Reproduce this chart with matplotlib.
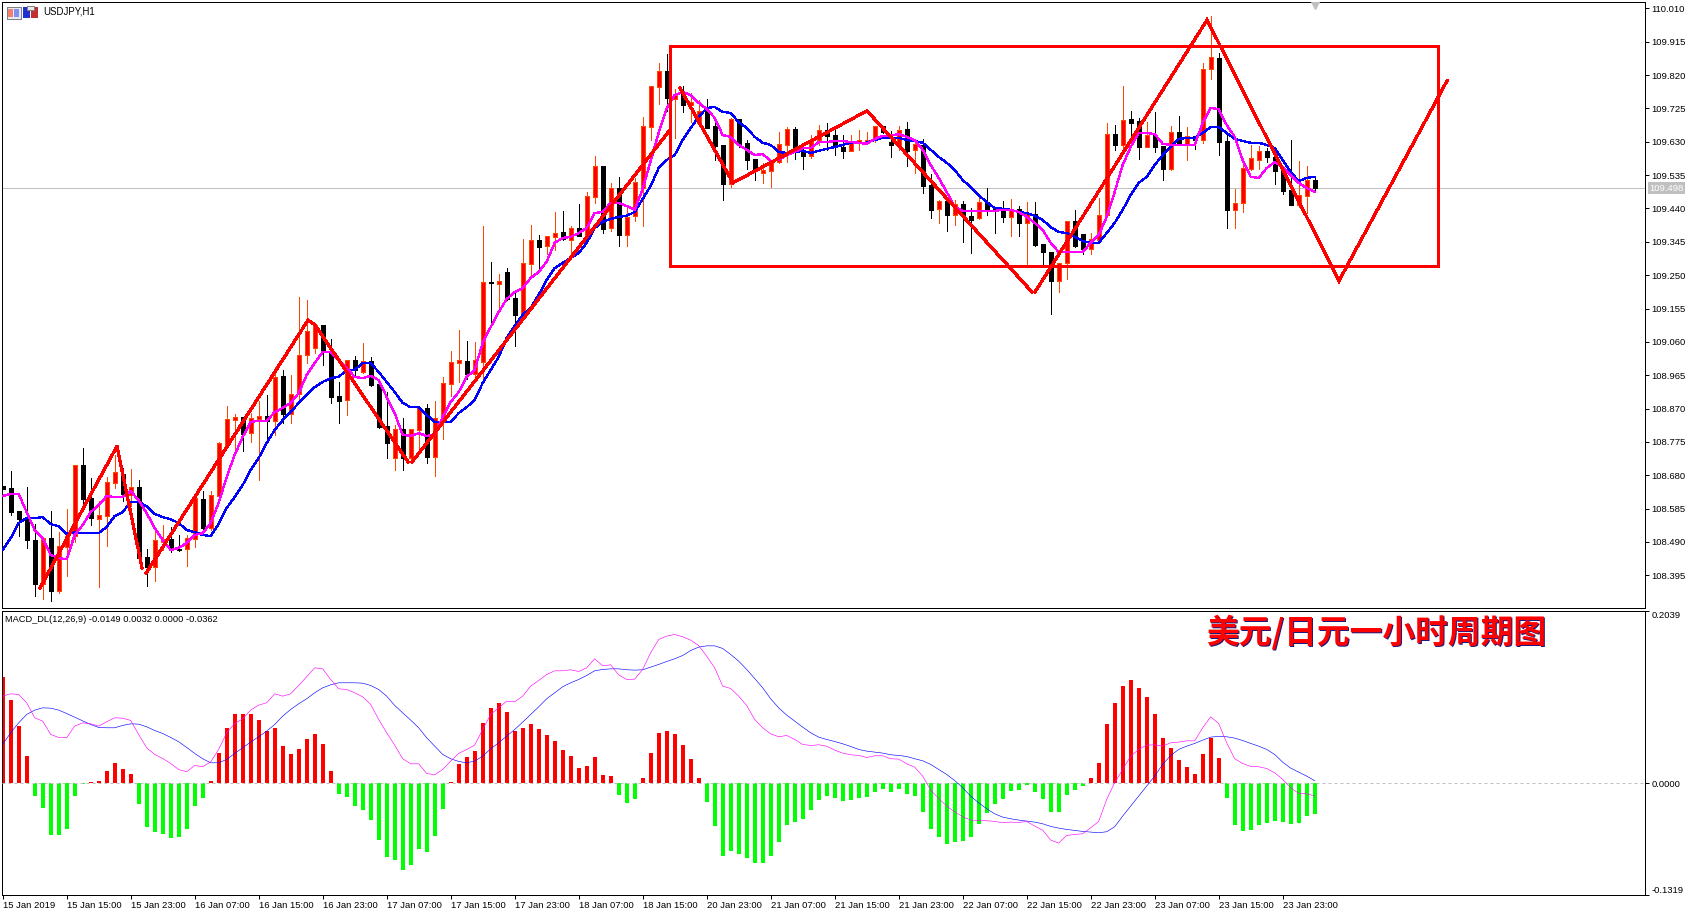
import matplotlib
matplotlib.use('Agg')
import matplotlib.pyplot as plt
import matplotlib.transforms as mtrans
from matplotlib.patches import Rectangle
import numpy as np

W, H = 1693, 917
plt.rcParams['font.family'] = ['Liberation Sans', 'DejaVu Sans']

# USDJPY H1 candles
highs = [108.649,108.693,108.578,108.646,108.541,108.504,108.578,108.518,108.584,108.709,
108.758,108.672,108.607,108.675,108.738,108.701,108.698,108.666,108.470,108.530,
108.538,108.533,108.510,108.510,108.618,108.635,108.635,108.775,108.877,108.854,
108.846,108.857,108.892,108.909,108.988,108.980,108.966,109.188,109.179,109.111,
109.108,109.068,108.946,109.008,109.020,109.057,109.017,108.940,108.917,108.823,
108.843,108.812,108.877,108.883,108.892,108.960,109.034,109.094,109.062,109.060,
109.390,109.288,109.253,109.270,109.208,109.353,109.393,109.364,109.362,109.430,
109.433,109.390,109.453,109.487,109.590,109.561,109.513,109.530,109.444,109.527,
109.701,109.789,109.854,109.880,109.780,109.789,109.769,109.749,109.752,109.701,
109.621,109.698,109.695,109.635,109.581,109.570,109.575,109.658,109.672,109.672,
109.615,109.649,109.678,109.684,109.669,109.649,109.649,109.664,109.658,109.675,
109.675,109.661,109.675,109.686,109.627,109.638,109.538,109.464,109.464,109.464,
109.461,109.441,109.473,109.498,109.444,109.461,109.467,109.447,109.458,109.458,
109.339,109.316,109.285,109.404,109.436,109.367,109.370,109.470,109.684,109.678,
109.789,109.718,109.698,109.686,109.715,109.618,109.675,109.704,109.672,109.647,
109.854,109.988,109.883,109.652,109.496,109.578,109.621,109.618,109.612,109.615,
109.558,109.635,109.575,109.561,109.527]
lows = [108.641,108.567,108.507,108.474,108.336,108.328,108.323,108.345,108.393,108.491,
108.592,108.538,108.363,108.478,108.644,108.607,108.592,108.444,108.364,108.379,
108.467,108.461,108.464,108.422,108.476,108.524,108.524,108.618,108.763,108.752,
108.749,108.775,108.666,108.775,108.795,108.829,108.829,108.894,109.000,109.028,
108.994,108.886,108.829,108.852,108.966,108.971,108.934,108.815,108.729,108.695,
108.695,108.723,108.752,108.715,108.678,108.783,108.906,108.946,108.954,108.946,
108.946,109.114,109.157,109.179,109.048,109.137,109.248,109.262,109.310,109.322,
109.350,109.313,109.362,109.350,109.456,109.370,109.376,109.333,109.333,109.404,
109.390,109.635,109.738,109.718,109.641,109.715,109.686,109.678,109.669,109.578,
109.464,109.501,109.615,109.553,109.521,109.513,109.501,109.570,109.572,109.581,
109.553,109.584,109.621,109.607,109.592,109.584,109.604,109.607,109.629,109.629,
109.655,109.587,109.607,109.561,109.541,109.484,109.413,109.399,109.376,109.393,
109.344,109.313,109.410,109.421,109.370,109.402,109.362,109.362,109.279,109.333,
109.279,109.139,109.202,109.239,109.330,109.310,109.310,109.350,109.416,109.607,
109.612,109.615,109.581,109.615,109.601,109.521,109.550,109.624,109.578,109.610,
109.627,109.809,109.592,109.384,109.384,109.430,109.550,109.553,109.572,109.510,
109.481,109.450,109.444,109.427,109.493]
opens = [108.649,108.644,108.578,108.562,108.496,108.370,108.501,108.351,108.475,108.507,
108.709,108.615,108.555,108.564,108.658,108.684,108.624,108.647,108.447,108.420,
108.490,108.498,108.470,108.470,108.499,108.612,108.530,108.621,108.766,108.837,
108.846,108.800,108.840,108.849,108.835,108.963,108.854,108.911,109.023,109.043,
109.108,109.031,108.906,108.894,109.008,108.974,109.006,108.940,108.820,108.729,
108.812,108.729,108.809,108.872,108.732,108.843,108.940,109.000,109.006,108.968,
109.003,109.231,109.225,109.259,109.185,109.137,109.282,109.350,109.333,109.359,
109.373,109.350,109.384,109.356,109.473,109.561,109.384,109.498,109.364,109.419,
109.498,109.672,109.786,109.832,109.752,109.769,109.735,109.684,109.718,109.675,
109.621,109.510,109.695,109.627,109.581,109.541,109.547,109.572,109.621,109.666,
109.601,109.590,109.635,109.664,109.649,109.615,109.604,109.627,109.632,109.635,
109.675,109.629,109.621,109.666,109.607,109.621,109.507,109.439,109.461,109.421,
109.453,109.419,109.413,109.458,109.439,109.436,109.416,109.439,109.399,109.424,
109.339,109.316,109.233,109.285,109.404,109.367,109.325,109.350,109.421,109.652,
109.621,109.695,109.689,109.615,109.649,109.618,109.553,109.658,109.624,109.647,
109.635,109.837,109.869,109.632,109.436,109.456,109.553,109.578,109.604,109.587,
109.550,109.493,109.450,109.476,109.521]
closes = [108.641,108.576,108.555,108.496,108.370,108.501,108.351,108.478,108.507,108.709,
108.612,108.558,108.567,108.661,108.689,108.627,108.647,108.444,108.419,108.496,
108.498,108.470,108.467,108.501,108.615,108.530,108.624,108.772,108.840,108.846,
108.797,108.843,108.849,108.835,108.961,108.854,108.911,109.023,109.091,109.108,
109.031,108.903,108.892,109.008,108.980,109.006,108.937,108.817,108.772,108.812,
108.729,108.812,108.872,108.732,108.843,108.943,109.003,109.008,108.968,109.008,
109.231,109.228,109.233,109.182,109.137,109.285,109.350,109.330,109.362,109.370,
109.353,109.384,109.362,109.476,109.561,109.382,109.498,109.364,109.416,109.515,
109.675,109.789,109.832,109.755,109.766,109.735,109.743,109.718,109.669,109.618,
109.510,109.695,109.621,109.578,109.547,109.550,109.572,109.624,109.666,109.609,
109.590,109.629,109.664,109.647,109.615,109.604,109.627,109.635,109.635,109.675,
109.658,109.621,109.664,109.604,109.624,109.504,109.436,109.461,109.421,109.453,
109.419,109.407,109.458,109.439,109.436,109.416,109.436,109.399,109.424,109.336,
109.316,109.233,109.285,109.404,109.333,109.325,109.353,109.421,109.652,109.621,
109.692,109.684,109.615,109.649,109.615,109.553,109.658,109.624,109.647,109.635,
109.837,109.872,109.629,109.436,109.456,109.555,109.584,109.604,109.587,109.547,
109.490,109.450,109.478,109.521,109.498]

# moving averages on the price panel
ma_slow = [108.467,108.501,108.544,108.558,108.558,108.561,108.541,108.535,108.513,108.518,
108.515,108.515,108.515,108.533,108.564,108.575,108.604,108.604,108.592,108.570,
108.561,108.555,108.544,108.524,108.518,108.510,108.507,108.541,108.587,108.618,
108.652,108.695,108.729,108.772,108.809,108.837,108.860,108.886,108.909,108.931,
108.946,108.957,108.960,108.980,108.980,109.000,109.000,108.974,108.946,108.917,
108.886,108.874,108.874,108.852,108.832,108.832,108.832,108.857,108.874,108.894,
108.943,108.980,109.017,109.071,109.105,109.137,109.157,109.194,109.236,109.270,
109.285,109.299,109.313,109.342,109.384,109.402,109.410,109.416,109.419,109.430,
109.467,109.504,109.555,109.578,109.592,109.635,109.669,109.701,109.726,109.729,
109.715,109.712,109.686,109.669,109.644,109.627,109.621,109.601,109.598,109.601,
109.604,109.598,109.604,109.610,109.615,109.621,109.627,109.627,109.627,109.635,
109.641,109.641,109.641,109.635,109.632,109.627,109.607,109.587,109.570,109.550,
109.521,109.501,109.478,109.458,109.441,109.439,109.436,109.430,109.427,109.419,
109.407,109.387,109.373,109.370,109.359,109.347,109.342,109.342,109.370,109.399,
109.436,109.478,109.513,109.530,109.564,109.592,109.615,109.638,109.641,109.641,
109.655,109.672,109.672,109.655,109.638,109.632,109.627,109.627,109.621,109.612,
109.578,109.544,109.518,109.527,109.530]
ma_fast = [108.621,108.627,108.627,108.575,108.524,108.501,108.453,108.444,108.441,108.510,
108.538,108.575,108.595,108.621,108.618,108.618,108.635,108.609,108.572,108.530,
108.496,108.467,108.473,108.487,108.510,108.515,108.544,108.601,108.675,108.738,
108.789,108.832,108.835,108.835,108.860,108.872,108.886,108.914,108.966,109.000,
109.031,109.031,109.008,108.986,108.960,108.957,108.963,108.951,108.903,108.857,
108.795,108.792,108.800,108.792,108.795,108.846,108.889,108.917,108.960,108.980,
109.057,109.102,109.145,109.182,109.202,109.213,109.242,109.259,109.288,109.342,
109.356,109.359,109.370,109.384,109.427,109.430,109.456,109.456,109.447,109.436,
109.496,109.575,109.655,109.726,109.763,109.772,109.763,109.741,109.723,109.698,
109.649,109.644,109.621,109.607,109.592,109.595,109.575,109.578,109.592,109.601,
109.612,109.612,109.629,109.629,109.632,109.632,109.629,109.627,109.624,109.638,
109.647,109.647,109.652,109.644,109.635,109.607,109.564,109.527,109.487,109.444,
109.433,109.433,109.433,109.433,109.433,109.436,109.436,109.430,109.416,109.399,
109.379,109.342,109.316,109.316,109.316,109.316,109.342,109.364,109.416,109.487,
109.564,109.615,109.655,109.655,109.652,109.624,109.621,109.621,109.621,109.621,
109.684,109.726,109.723,109.678,109.644,109.578,109.530,109.527,109.555,109.572,
109.558,109.535,109.513,109.498,109.487]

# MACD panel
macd_hist = [.1257,.0981,.0674,.0319,-.0154,-.0296,-.0615,-.0615,-.0544,-.0154,
-.0008,.0012,.0024,.0142,.0236,.0165,.0106,-.0248,-.052,-.0579,
-.0603,-.065,-.0638,-.0544,-.0272,-.0177,.0024,.0355,.065,.0827,
.0827,.0816,.0745,.0626,.065,.0437,.0343,.0402,.052,.0579,
.0461,.0142,-.013,-.0165,-.0272,-.0319,-.0437,-.0674,-.0875,-.091,
-.1028,-.0969,-.078,-.0816,-.0626,-.0307,.0012,.0225,.0307,.0378,
.0709,.0887,.0946,.0839,.0626,.065,.0697,.0638,.0567,.0496,
.039,.0319,.0177,.0201,.0307,.0095,.0083,-.0142,-.0236,-.0189,
.0059,.0355,.0591,.0615,.0579,.0449,.0284,.0059,-.0225,-.0508,
-.0863,-.0804,-.0839,-.0887,-.0946,-.0946,-.0863,-.0697,-.0496,-.0461,
-.0426,-.0319,-.0201,-.0154,-.0177,-.0213,-.0201,-.0177,-.0165,-.0106,
-.0071,-.0106,-.0071,-.013,-.0154,-.0343,-.0544,-.0638,-.0721,-.0697,
-.0686,-.0638,-.0485,-.0355,-.0248,-.0189,-.0095,-.0083,-.0024,-.0106,
-.0189,-.0343,-.0343,-.0142,-.0083,-.0035,.0059,.0236,.0697,.0946,
.1158,.1229,.1123,.1017,.0827,.0532,.0414,.0272,.0189,.0106,
.0343,.0532,.0296,-.0177,-.0496,-.0567,-.0556,-.0496,-.0473,-.0449,
-.0461,-.0485,-.0473,-.039,-.0362]
macd_fast = [.1032,.106,.1052,.0954,.0776,.0737,.0579,.0544,.054,.0678,
.0717,.0705,.0678,.0729,.0776,.0772,.0745,.0579,.0422,.0343,
.0296,.0236,.0165,.0138,.0213,.0197,.0256,.0402,.0599,.0709,
.0764,.0867,.0926,.0954,.106,.1032,.106,.1158,.1261,.1367,
.1355,.1229,.1119,.1111,.1072,.1024,.0934,.0757,.0599,.0453,
.0292,.0232,.0232,.0118,.0102,.0165,.0264,.0355,.0402,.0453,
.0638,.0816,.0894,.0973,.0965,.1032,.1151,.1217,.1288,.1332,
.1332,.1344,.1324,.1367,.1474,.1391,.1403,.1284,.1229,.1233,
.1348,.1545,.1702,.1742,.1761,.1734,.1694,.1631,.1505,.1367,
.1151,.1123,.1032,.0922,.0757,.0658,.0587,.0552,.0567,.052,
.0461,.0449,.0457,.0441,.0394,.0359,.0339,.0331,.0307,.0327,
.0327,.0292,.0288,.0232,.0193,.0087,-.0079,-.0177,-.0268,-.0335,
-.0394,-.0433,-.0437,-.0441,-.0449,-.0465,-.0457,-.0461,-.0449,-.0504,
-.0552,-.067,-.0705,-.0615,-.0603,-.0595,-.0524,-.045,-.0189,.0008,
.0165,.0323,.0402,.0453,.0457,.0441,.0481,.0489,.0504,.0504,
.0658,.0788,.0709,.0481,.0292,.0236,.0201,.0197,.0177,.0126,
.0047,-.0051,-.0118,-.0122,-.0149]
macd_signal = [.0461,.0599,.0717,.0816,.0867,.0894,.089,.0867,.0827,.0784,
.0741,.0697,.0662,.0658,.0658,.0686,.0705,.0701,.067,.0626,
.0591,.0544,.0493,.0426,.0355,.0292,.0244,.0244,.0284,.0355,
.0422,.0489,.0552,.0619,.0697,.0796,.0875,.0942,.1001,.1072,
.1131,.1166,.119,.119,.119,.1186,.1158,.1111,.1032,.0922,
.0835,.0749,.0658,.054,.0441,.0343,.0292,.026,.0244,.0264,
.0323,.041,.0481,.056,.0638,.0725,.0816,.0906,.1001,.1072,
.1143,.119,.1229,.1277,.1332,.1348,.1355,.1355,.1344,.134,
.1344,.1375,.1407,.1442,.1474,.1513,.1572,.1612,.1627,.1627,
.1596,.1525,.1446,.1348,.1241,.1131,.1001,.0894,.0808,.0737,
.0666,.0599,.0548,.052,.0496,.0469,.0437,.0402,.0382,.037,
.0359,.0339,.0331,.0319,.0292,.0268,.0225,.0165,.0106,.0035,
-.0051,-.015,-.0229,-.0299,-.0359,-.0398,-.0418,-.0433,-.0445,-.0457,
-.0477,-.0508,-.0528,-.0544,-.0556,-.0567,-.0575,-.0583,-.0571,-.0512,
-.0386,-.0268,-.015,-.0032,.0087,.0225,.0331,.0402,.0441,.0473,
.0512,.0548,.0556,.0552,.0536,.0508,.0473,.0441,.0402,.0343,
.0252,.0181,.0134,.0087,.0032]

time_labels = ['15 Jan 2019','15 Jan 15:00','15 Jan 23:00','16 Jan 07:00','16 Jan 15:00','16 Jan 23:00',
'17 Jan 07:00','17 Jan 15:00','17 Jan 23:00','18 Jan 07:00','18 Jan 15:00','20 Jan 23:00','21 Jan 07:00',
'21 Jan 15:00','21 Jan 23:00','22 Jan 07:00','22 Jan 15:00','22 Jan 23:00','23 Jan 07:00','23 Jan 15:00','23 Jan 23:00']
price_ticks = [110.010,109.915,109.820,109.725,109.630,109.535,109.440,109.345,109.250,109.155,
109.060,108.965,108.870,108.775,108.680,108.585,108.490,108.395]
last_price = 109.498
macd_ticks = [0.2039,0.0,-0.1319]

# hand-drawn swing lines and range box (bar number, price); nan breaks the pen
swing_bar = [4.67,14.29,17.42,np.nan,17.92,38.17,39.04,50.67,np.nan,51.17,83.42,np.nan,84.67,91.29,108.04,128.67,np.nan,129.04,150.55,167.04,180.55]
swing_price = [108.359,108.763,108.416,np.nan,108.401,109.122,109.108,108.718,np.nan,108.718,109.664,np.nan,109.783,109.513,109.718,109.202,np.nan,109.202,109.977,109.234,109.804]
box_bars = [83.42,179.42]
box_prices = [109.276,109.904]

PX = 0.72  # one pixel in points at dpi 100
RED, ORANGE, LIME, GRAY = '#ff0000', '#ff4500', '#00ff00', '#c0c0c0'
FS = 6.8

fig = plt.figure(figsize=(W/100, H/100), dpi=100, facecolor='white')
ax = fig.add_axes([2/W, 1-608/H, 1643/W, 606/H])
ax2 = fig.add_axes([2/W, 1-895/H, 1643/W, 284/H])

bars = np.arange(len(closes))
o, c, hi, lo = map(np.array, (opens, closes, highs, lows))
up = c > o

# price panel
ax.axhline(last_price, color=GRAY, lw=PX, zorder=1)
ax.vlines(bars[~up], lo[~up], hi[~up], color='black', lw=PX, antialiased=False, zorder=2)
ax.vlines(bars[up], lo[up], hi[up], color=ORANGE, lw=PX, antialiased=False, zorder=2)
ax.bar(bars[~up], (o-c)[~up], bottom=c[~up], width=0.5, color='black', edgecolor='black', lw=PX, antialiased=False, zorder=3)
ax.bar(bars[up], (c-o)[up], bottom=o[up], width=0.5, color=RED, edgecolor=ORANGE, lw=PX, antialiased=False, zorder=3)
ax.plot(bars, ma_slow, color='#0000ff', lw=1.3*PX, antialiased=False, zorder=4)
ax.plot(bars, ma_fast, color='#ff00ff', lw=1.3*PX, antialiased=False, zorder=5)
ax.plot(swing_bar, swing_price, color=RED, lw=2.2*PX, antialiased=False, zorder=6, solid_joinstyle='miter')
ax.add_patch(Rectangle((box_bars[0], box_prices[0]), box_bars[1]-box_bars[0], box_prices[1]-box_prices[0],
                       fill=False, edgecolor=RED, lw=3*PX, antialiased=False, zorder=6))
# shift marker at the top edge
ax.plot([bars[-1]], [110.019], marker='v', ms=5.5, color=GRAY, mec=GRAY, zorder=7)

ax.set_xlim(-0.084, 205.29)
ax.set_ylim(108.302, 110.028)
ax.set_xticks([])
ax.yaxis.tick_right()
ax.set_yticks(price_ticks)
ax.set_yticklabels(['%.3f' % p for p in price_ticks], fontsize=FS)
ax.tick_params(axis='y', length=4*PX, width=PX, pad=2)
ax.annotate('%.3f' % last_price, xy=(1, last_price), xycoords=ax.get_yaxis_transform(),
            xytext=(4.5*PX, 0), textcoords='offset points', va='center', ha='left',
            fontsize=FS, color='white', annotation_clip=False, zorder=10,
            bbox=dict(boxstyle='square,pad=0.12', fc=GRAY, ec=GRAY, lw=0))

# macd panel
pos = np.array(macd_hist) > 0
ax2.bar(bars[pos], np.array(macd_hist)[pos], width=0.5, color=RED, antialiased=False, zorder=2)
ax2.bar(bars[~pos], np.array(macd_hist)[~pos], width=0.5, color=LIME, antialiased=False, zorder=2)
ax2.axhline(0, color=GRAY, lw=PX, ls=(0, (3, 3)), zorder=3)
ax2.plot(bars, macd_signal, color='#0000ff', lw=0.6*PX, zorder=4)
ax2.plot(bars, macd_fast, color='#ff00ff', lw=0.6*PX, zorder=5)

ax2.set_xlim(-0.084, 205.29)
ax2.set_ylim(macd_ticks[2], macd_ticks[0])
ax2.set_xticks(bars[::8][:len(time_labels)])
ax2.set_xticklabels(time_labels, fontsize=FS, ha='left')
ax2.tick_params(axis='x', length=4*PX, width=PX, pad=1.5)
ax2.yaxis.tick_right()
ax2.set_yticks(macd_ticks)
ax2.set_yticklabels(['%.4f' % v for v in macd_ticks], fontsize=FS)
ax2.tick_params(axis='y', length=4*PX, width=PX, pad=2)
ylabs = ax2.get_yticklabels()
ylabs[0].set_va('top')
ylabs[2].set_va('bottom')

for a in (ax, ax2):
    for s in a.spines.values():
        s.set_linewidth(PX)

fig.text(43/W, 1-12/H, 'USDJPY,H1', fontsize=FS+0.1, va='center', ha='left')
fig.text(5/W, 1-620/H, 'MACD_DL(12,26,9) -0.0149 0.0032 0.0000 -0.0362', fontsize=FS-0.15, va='center', ha='left')

# chart caption with a dark offset behind it
title = '美元/日元一小时周期图'
for col, dx, dy in (('#1a1a80', 1, 1), (RED, 0, 0)):
    fig.text((1376+dx)/W, 1-(632+dy)/H, title, fontsize=23.6, color=col, va='center', ha='center',
             family=['Noto Sans CJK SC', 'DejaVu Sans'], weight='bold')

# toolbar icons in the corner
to_px = mtrans.Affine2D().scale(1, -1).translate(0, H)
def box(x, y, w, h, fc, ec='none'):
    fig.add_artist(Rectangle((x, y), w, h, transform=to_px, fc=fc, ec=ec, lw=PX, antialiased=False))
box(6.5, 6.5, 14, 12, '#e8e8f0', '#808088')
box(8, 9, 5, 8, '#f08070')
box(14, 9, 5, 8, '#8090f0')
box(23, 7, 7, 11, '#2030d0')
box(31, 7, 7, 11, '#c03030')
box(27, 6, 7, 4, '#e8e8e8', '#808080')

fig.savefig('out.png', dpi=100, facecolor='white')
